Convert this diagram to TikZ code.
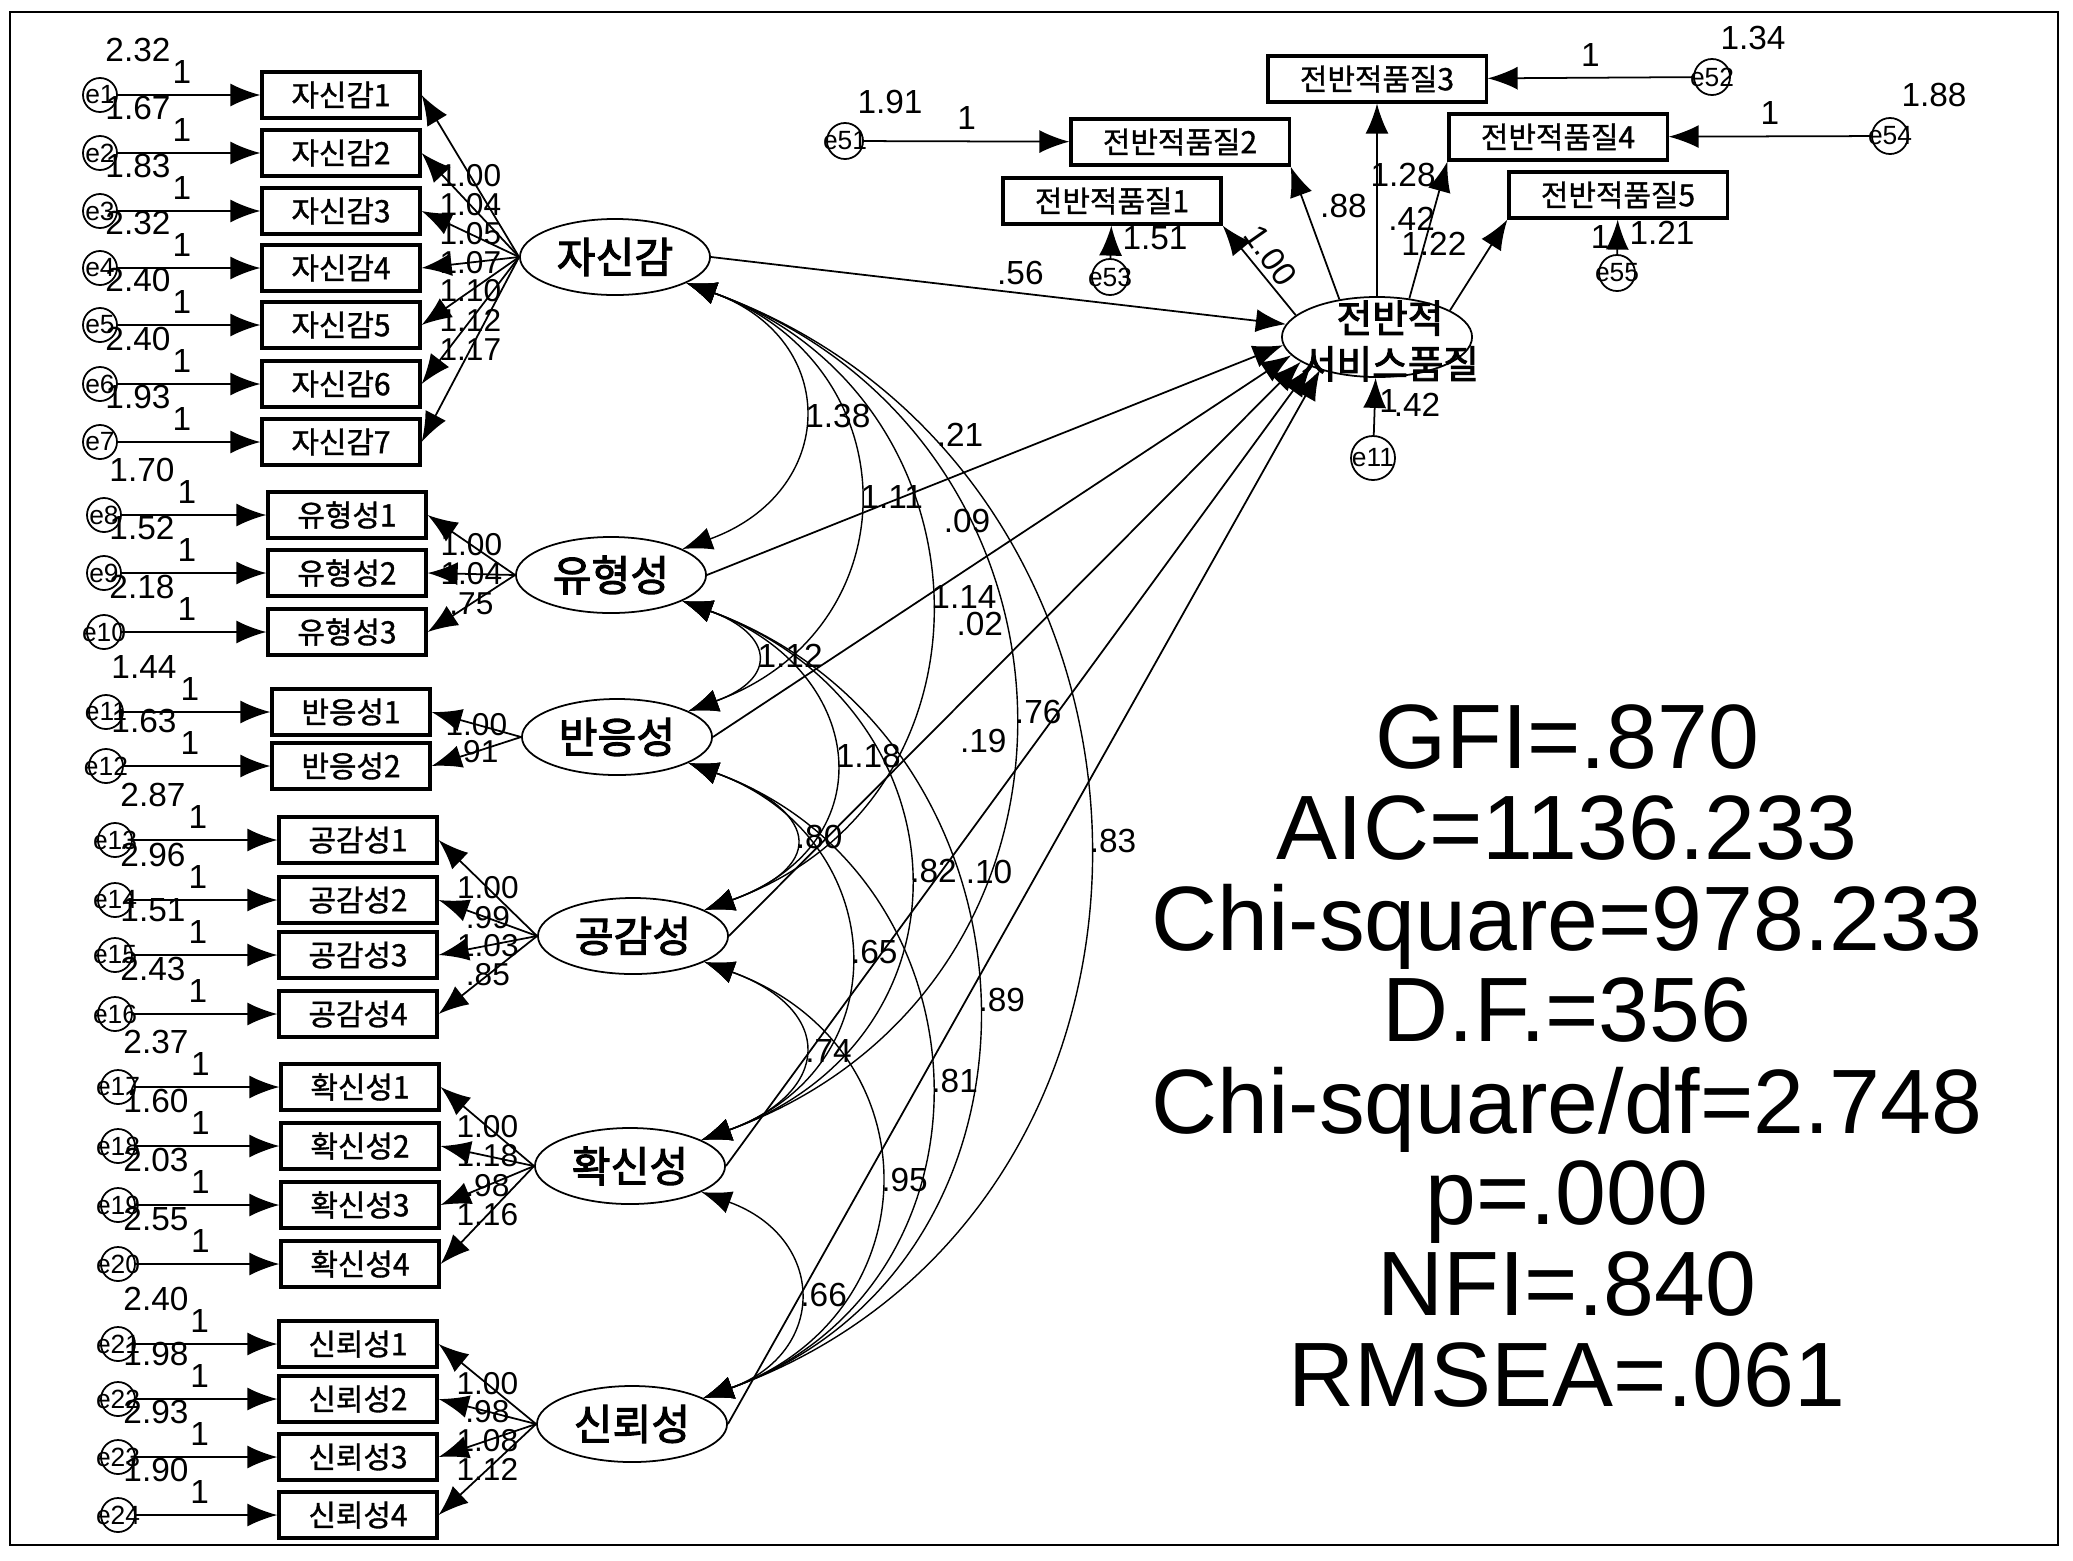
\documentclass[tikz,border=0pt]{standalone}
\usepackage{fontspec}
\usetikzlibrary{arrows.meta, positioning, shapes.geometric}
\setmainfont{Liberation Sans}
\font\krfac="Noto Sans CJK KR:embolden=2.5" at 12pt
\font\krmain="Noto Sans CJK KR:embolden=2.5" at 11pt
\font\kritem="Noto Sans CJK KR:embolden=1.2" at 8.5pt

\begin{document}
\begin{tikzpicture}[x=0.01cm, y=0.01cm, line width=0.5pt,
    >={Latex[length=3mm, width=2.3mm]},
    item/.style={draw, line width=0.9pt, minimum width=1.58cm, minimum height=0.46cm,
                 inner sep=0pt, font=\kritem},
    gitem/.style={item, minimum width=2.18cm},
    fac/.style={ellipse, draw, minimum width=1.9cm, minimum height=0.76cm,
                inner sep=0pt, font=\krfac},
    err/.style={circle, draw, minimum size=0.34cm, inner sep=0pt,
                font=\fontsize{7.5}{8}\selectfont},
    num/.style={inner sep=1pt, font=\fontsize{9.5}{10}\selectfont},
    load/.style={inner sep=0.3pt, font=\fontsize{9}{9}\selectfont},
    cov/.style={<->, line width=0.4pt}]
  \useasboundingbox (0,0) rectangle (2073,-1560);
  \draw (10,-12) rectangle (2058,-1545);

  % latent factors
  \node[fac] (jsg) at (615,-257) {자신감};
  \node[fac] (yhs) at (611,-575) {유형성};
  \node[fac] (bes) at (617,-737) {반응성};
  \node[fac] (ggs) at (633,-936) {공감성};
  \node[fac] (hss) at (630,-1166) {확신성};
  \node[fac] (srs) at (632,-1424) {신뢰성};

  \node[fac, minimum height=0.8cm] (main) at (1377,-337) {};
  \node[font={\krmain\baselineskip=13pt}, align=center, inner sep=0pt]
    (mainlbl) at (1390,-341) {전반적\\서비스품질};

  % observed items with their errors
  \foreach \n/\t/\x/\y/\ex/\v [count=\i] in {
      a1/자신감1/341/95/100/2.32, a2/자신감2/341/153/100/1.67,
      a3/자신감3/341/211/100/1.83, a4/자신감4/341/268/100/2.32,
      a5/자신감5/341/325/100/2.40, a6/자신감6/341/384/100/2.40,
      a7/자신감7/341/442/100/1.93,
      b1/유형성1/347/515/104/1.70, b2/유형성2/347/573/104/1.52,
      b3/유형성3/347/632/104/2.18,
      c1/반응성1/351/712/106/1.44, c2/반응성2/351/766/106/1.63,
      d1/공감성1/358/840/115/2.87, d2/공감성2/358/900/115/2.96,
      d3/공감성3/358/955/115/1.51, d4/공감성4/358/1014/115/2.43,
      h1/확신성1/360/1087/118/2.37, h2/확신성2/360/1146/118/1.60,
      h3/확신성3/360/1205/118/2.03, h4/확신성4/360/1264/118/2.55,
      s1/신뢰성1/358/1344/118/2.40, s2/신뢰성2/358/1399/118/1.98,
      s3/신뢰성3/358/1457/118/2.93, s4/신뢰성4/358/1515/118/1.90}
  {
    \node[item] (\n) at (\x,-\y) {\t};
    \node[err] (e\i) at (\ex,-\y) {\makebox[0pt]{e\i}};
    \draw[->] (e\i) -- node[num, pos=0.45, above=2pt] {1} (\n);
    \node[num] (v\i) at (\ex+38,-\y+45) {\v};
  }

  \foreach \f/\n/\l in {jsg/a1/1.00, jsg/a2/1.04, jsg/a3/1.05, jsg/a4/1.07,
      jsg/a5/1.10, jsg/a6/1.12, jsg/a7/1.17,
      yhs/b1/1.00, yhs/b2/1.04, yhs/b3/.75,
      bes/c1/1.00, bes/c2/.91,
      ggs/d1/1.00, ggs/d2/.99, ggs/d3/1.03, ggs/d4/.85,
      hss/h1/1.00, hss/h2/1.18, hss/h3/.98, hss/h4/1.16,
      srs/s1/1.00, srs/s2/.98, srs/s3/1.08, srs/s4/1.12}
    \draw[->] (\f.west) -- node[load, pos=0.5] {\l} (\n.east);

  % covariances
  \foreach \p/\q/\lo/\l in {jsg/yhs/1.59/1.38, jsg/bes/1.43/1.11,
      jsg/ggs/1.34/1.14, jsg/hss/1.34/.76, jsg/srs/1.27/.83,
      yhs/bes/2.24/1.12, yhs/ggs/1.62/1.18, yhs/hss/1.44/.82, yhs/srs/1.28/.89,
      bes/ggs/2.34/.80, bes/hss/1.46/.65, bes/srs/1.32/.81,
      ggs/hss/2.0/.74, ggs/srs/1.44/.95, hss/srs/1.65/.66}
    \draw[cov] (\p.-20) to[out=-20, in=20, looseness=\lo]
      node[num, right] {\l} (\q.20);

  \foreach \f/\a/\l/\sx/\sy in {jsg/172/.56/22/18, yhs/185/.21/-35/25,
      bes/192/.09/-35/25, ggs/198/.02/-35/25, hss/204/.19/-35/25,
      srs/210/.10/-35/25}
    \draw[->] (\f.east) -- node[num, shift={(\sx,\sy)}] {\l} (main.\a);

  % overall quality items
  \node[gitem] (q3) at (1377,-79) {전반적품질3};
  \node[gitem] (q2) at (1180,-142) {전반적품질2};
  \node[gitem] (q1) at (1112,-201) {전반적품질1};
  \node[gitem] (q4) at (1558,-137) {전반적품질4};
  \node[gitem] (q5) at (1618,-195) {전반적품질5};

  \node[err, minimum size=0.36cm] (e51) at (845,-141) {\makebox[0pt]{e51}};
  \node[err, minimum size=0.36cm] (e52) at (1712,-77) {\makebox[0pt]{e52}};
  \node[err, minimum size=0.36cm] (e53) at (1110,-277) {\makebox[0pt]{e53}};
  \node[err, minimum size=0.36cm] (e54) at (1890,-136) {\makebox[0pt]{e54}};
  \node[err, minimum size=0.36cm] (e55) at (1617,-273) {\makebox[0pt]{e55}};
  \node[err, minimum size=0.44cm] (z11) at (1373,-458) {\makebox[0pt]{e11}};

  \draw[->] (main.165) -- node[num, pos=0.62, shift={(20,4)}, rotate=-55] {1.00} (q1.south east);
  \draw[->] (main.135) -- node[num, pos=0.7, right=3pt] {.88} (q2.south east);
  \draw[->] (main.north) -- node[num, pos=0.4, right=2pt] {.42} (q3.south);
  \draw[->] (main.50) -- node[num, pos=0.9, left=1pt] {1.28} (q4.south west);
  \draw[->] (main.20) -- node[num, pos=0.73, left=6pt] {1.22} (q5.south west);

  \draw[->] (e51) -- node[num, above=2pt] {1} (q2);
  \draw[->] (e52) -- node[num, above=2pt] {1} (q3);
  \draw[->] (e54) -- node[num, above=2pt] {1} (q4);
  \draw[->] (e53) -- (q1);
  \draw[->] (e55) -- node[num, left=1pt] {1} (q5);
  \draw[->] (z11) -- node[num, pos=0.6, right=0pt] {1} (main);

  \node[num] (v51) at (890,-102) {1.91};
  \node[num] (v52) at (1753,-38) {1.34};
  \node[num] (v54) at (1934,-95) {1.88};
  \node[num] (v53) at (1155,-238) {1.51};
  \node[num] (v55) at (1662,-233) {1.21};
  \node[num] (v11) at (1417,-405) {.42};

  % fit indices
  \node[align=center, inner sep=0pt, font=\fontsize{26}{25.9}\selectfont] (fit)
    at (1567,-1056) {GFI=.870\\AIC=1136.233\\Chi-square=978.233\\D.F.=356\\
      Chi-square/df=2.748\\p=.000\\NFI=.840\\RMSEA=.061};
\end{tikzpicture}
\end{document}
